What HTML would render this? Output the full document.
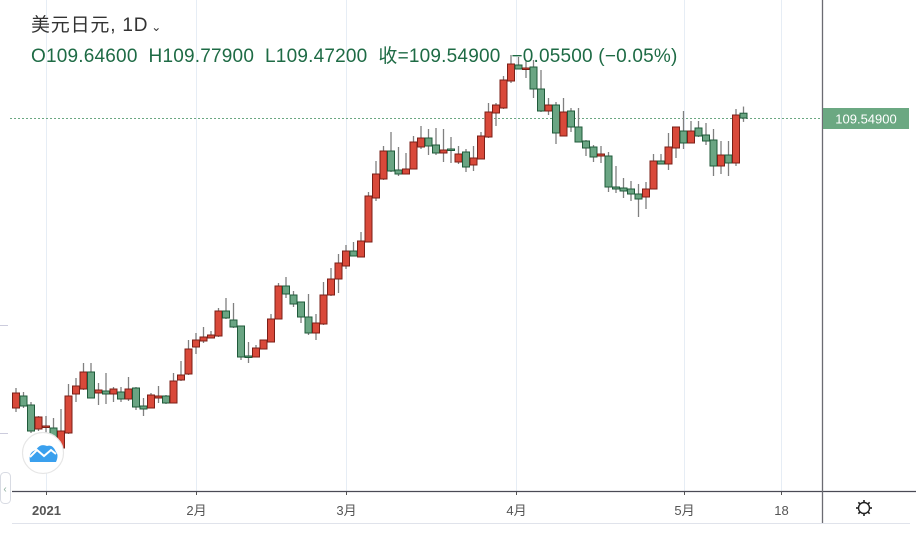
<!DOCTYPE html>
<html><head><meta charset="utf-8">
<style>
html,body{margin:0;padding:0;background:#fff;width:916px;height:533px;overflow:hidden;font-family:"Liberation Sans","Noto Sans CJK SC",sans-serif;}
#wrap{position:relative;width:916px;height:533px;}
.t{position:absolute;white-space:nowrap;}
</style></head>
<body>
<div id="wrap">
<svg id="chart" width="916" height="533" style="position:absolute;left:0;top:0"></svg>
<div class="t" style="left:31px;top:10px;font-size:19px;letter-spacing:0.8px;color:#333">美元日元, 1D<span style="font-size:12px;margin-left:3px">&#8964;</span></div>
<div class="t" style="left:31px;top:41px;font-size:19px;letter-spacing:0.2px;color:#1e6b45">O109.64600&nbsp;&nbsp;H109.77900&nbsp;&nbsp;L109.47200&nbsp;&nbsp;收=109.54900&nbsp;&nbsp;−0.05500 (−0.05%)</div>
</div>
<script>
const openP=[103.75,103.99,103.81,103.33,103.37,103.35,102.95,103.25,104.03,104.13,104.47,104.05,104.09,104.03,104.07,103.93,104.15,103.79,103.75,103.95,103.99,103.85,104.31,104.43,104.97,105.09,105.15,105.19,105.69,105.51,105.39,104.79,104.77,104.93,105.07,105.53,106.19,106.01,105.87,105.57,105.25,105.43,106.01,106.33,106.59,106.89,106.77,107.07,107.95,108.33,108.89,108.51,108.43,108.53,108.97,109.15,109.01,108.85,108.93,108.67,108.87,108.61,108.73,109.17,109.65,109.75,110.29,110.61,110.53,110.57,110.13,109.69,109.81,109.19,109.69,109.37,109.09,108.97,108.79,108.79,108.17,108.15,108.13,108.03,107.97,108.13,108.69,108.63,108.95,109.29,109.05,109.35,109.21,109.11,108.59,108.81,108.65,109.646];
const highP=[104.15,104.07,103.87,103.59,103.59,103.55,103.73,104.23,104.35,104.65,104.65,104.25,104.45,104.17,104.17,104.37,104.17,103.95,104.05,104.19,104.01,104.45,104.69,105.11,105.25,105.37,105.29,105.75,105.95,105.85,105.39,105.07,105.01,105.11,105.63,106.25,106.37,106.09,105.87,106.03,105.63,106.27,106.55,106.83,107.01,107.07,107.27,108.07,108.69,108.99,109.27,108.97,108.85,109.19,109.39,109.33,109.35,109.33,109.17,108.99,108.93,108.99,109.27,109.85,109.85,110.39,110.81,110.77,110.69,110.71,110.51,109.95,109.87,109.95,109.75,109.75,109.11,109.01,108.99,108.87,108.59,108.35,108.29,108.23,108.27,108.83,108.83,109.25,109.37,109.69,109.49,109.49,109.45,109.33,109.09,109.09,109.73,109.779];
const lowP=[103.67,103.75,103.25,103.29,103.17,103.11,102.91,103.23,103.87,104.11,103.95,103.81,103.83,103.87,103.87,103.89,103.71,103.59,103.75,103.85,103.83,103.85,104.29,104.41,104.83,105.05,105.15,105.17,105.53,105.35,104.71,104.65,104.77,104.93,105.07,105.53,105.95,105.77,105.45,105.21,105.11,105.41,105.99,106.05,106.53,106.79,106.77,107.07,107.89,108.31,108.47,108.39,108.43,108.53,108.93,108.81,108.81,108.67,108.65,108.63,108.47,108.49,108.73,109.15,109.39,109.73,110.25,110.53,110.35,109.95,109.67,109.61,109.03,109.19,109.27,109.07,108.79,108.67,108.65,108.07,108.05,107.95,107.89,107.57,107.73,108.13,108.63,108.51,108.75,108.93,109.05,109.17,109.01,108.39,108.43,108.39,108.59,109.472];
const closeP=[104.05,103.79,103.29,103.57,103.39,103.15,103.29,103.99,104.19,104.47,103.95,104.11,104.03,104.13,103.93,104.13,103.77,103.73,104.01,103.99,103.85,104.29,104.41,104.93,105.11,105.17,105.21,105.69,105.55,105.37,104.77,104.77,104.95,105.11,105.53,106.19,106.03,105.83,105.57,105.25,105.45,106.01,106.33,106.65,106.89,106.79,107.09,107.99,108.43,108.89,108.49,108.43,108.53,109.07,109.15,108.99,108.85,108.91,108.91,108.83,108.57,108.75,109.19,109.67,109.81,110.31,110.63,110.53,110.55,110.13,109.69,109.81,109.25,109.67,109.37,109.07,108.95,108.77,108.83,108.17,108.13,108.09,108.03,107.93,108.13,108.69,108.63,108.97,109.37,109.05,109.29,109.19,109.09,108.59,108.81,108.65,109.61,109.549];
const xTickLabels=["2021","2月","3月","4月","5月","18"];
const xTickIndex=[4,24,44,66.7,89,102];
const lastPrice=109.549;

const NS="http://www.w3.org/2000/svg";
const svg=document.getElementById('chart');
function mk(tag,attrs,parent){const e=document.createElementNS(NS,tag);for(const k in attrs)e.setAttribute(k,attrs[k]);(parent||svg).appendChild(e);return e;}
const xOf=i=>16+i*7.5;
const yOf=p=>(111.91-p)*50;

xTickIndex.forEach((ti,k)=>{
  const x=Math.round(xOf(ti))+0.5;
  const g=mk('line',{x1:x,y1:0,x2:x,y2:491,stroke:'#e6edf5','stroke-width':1});
  
  
  const tk=mk('line',{x1:x,y1:491,x2:x,y2:495,stroke:'#555','stroke-width':1});
  
  
  const t=mk('text',{x:x,y:515,'text-anchor':'middle','font-size':13,fill:'#555','font-family':'"Liberation Sans","Noto Sans CJK SC",sans-serif','font-weight':k===0?'bold':'normal'});
  t.textContent=xTickLabels[k];
  
  
});
[325,433].forEach(y=>{const l=mk('line',{x1:0,y1:y+0.5,x2:8,y2:y+0.5,stroke:'#ccd',"stroke-width":1});

});

const py=Math.round(yOf(lastPrice))+0.5;
const pl=mk('line',{x1:10,y1:py,x2:822,y2:py,stroke:'#6ba882','stroke-width':1,'stroke-dasharray':'2,2'});



for(let i=0;i<openP.length;i++){
  const up=closeP[i]>=openP[i];
  const x=xOf(i);
  const fill=up?'#d9493a':'#6aa583';
  const stroke=up?'#7a1f17':'#1f5a3a';
  const w=mk('line',{x1:x,y1:yOf(highP[i]),x2:x,y2:yOf(lowP[i]),stroke:'#808080','stroke-width':1.3});
  
  
  const top=yOf(Math.max(openP[i],closeP[i]));
  const h=Math.max(1.5,yOf(Math.min(openP[i],closeP[i]))-top);
  const b=mk('rect',{x:x-3.5,y:top,width:7,height:h,fill:fill,stroke:stroke,'stroke-width':1});
  
  
}

const ax=mk('line',{x1:12,y1:491.5,x2:916,y2:491.5,stroke:'#4a4a55','stroke-width':1.3});


const bb=mk('line',{x1:12,y1:523.5,x2:910,y2:523.5,stroke:'#e0e3eb','stroke-width':1});


const vs=mk('line',{x1:822.5,y1:0,x2:822.5,y2:523,stroke:'#6b6b72','stroke-width':1.3});



const lb=mk('rect',{x:823,y:py-10.5,width:86,height:21,fill:'#6ba882'});


const lt=mk('text',{x:866,y:py+5,'text-anchor':'middle','font-size':13,fill:'#fff','font-family':'"Liberation Sans",sans-serif'});
lt.textContent=lastPrice.toFixed(5);



const gear=mk('g',{transform:'translate(864,508)'});


mk('circle',{cx:0,cy:0,r:5.5,fill:'none',stroke:'#222','stroke-width':1.4},gear);
for(let a=0;a<8;a++){const r=a*Math.PI/4;mk('line',{x1:Math.cos(r)*5.5,y1:Math.sin(r)*5.5,x2:Math.cos(r)*8,y2:Math.sin(r)*8,stroke:'#222','stroke-width':1.6},gear);}

const logo=mk('g',{});


mk('circle',{cx:43,cy:453,r:20.5,fill:'#fff',stroke:'#e6e6e6','stroke-width':1.2},logo);
mk('path',{d:'M30 462 Q28 452 36 450 Q40 443 47 446 Q53 444 56 452 Q59 455 56 462 Z',fill:'#3aa0ee'},logo);
mk('polyline',{points:'30,457 37,450 44,456 51,450 56,454',fill:'none',stroke:'#fff','stroke-width':2},logo);

const sb=mk('rect',{x:0.5,y:472.5,width:10,height:31,rx:4,fill:'#fff',stroke:'#d8dbe3'});


const st=mk('text',{x:5,y:492,'text-anchor':'middle','font-size':10,fill:'#8a9'});
st.textContent='‹';


</script>
</body></html>
